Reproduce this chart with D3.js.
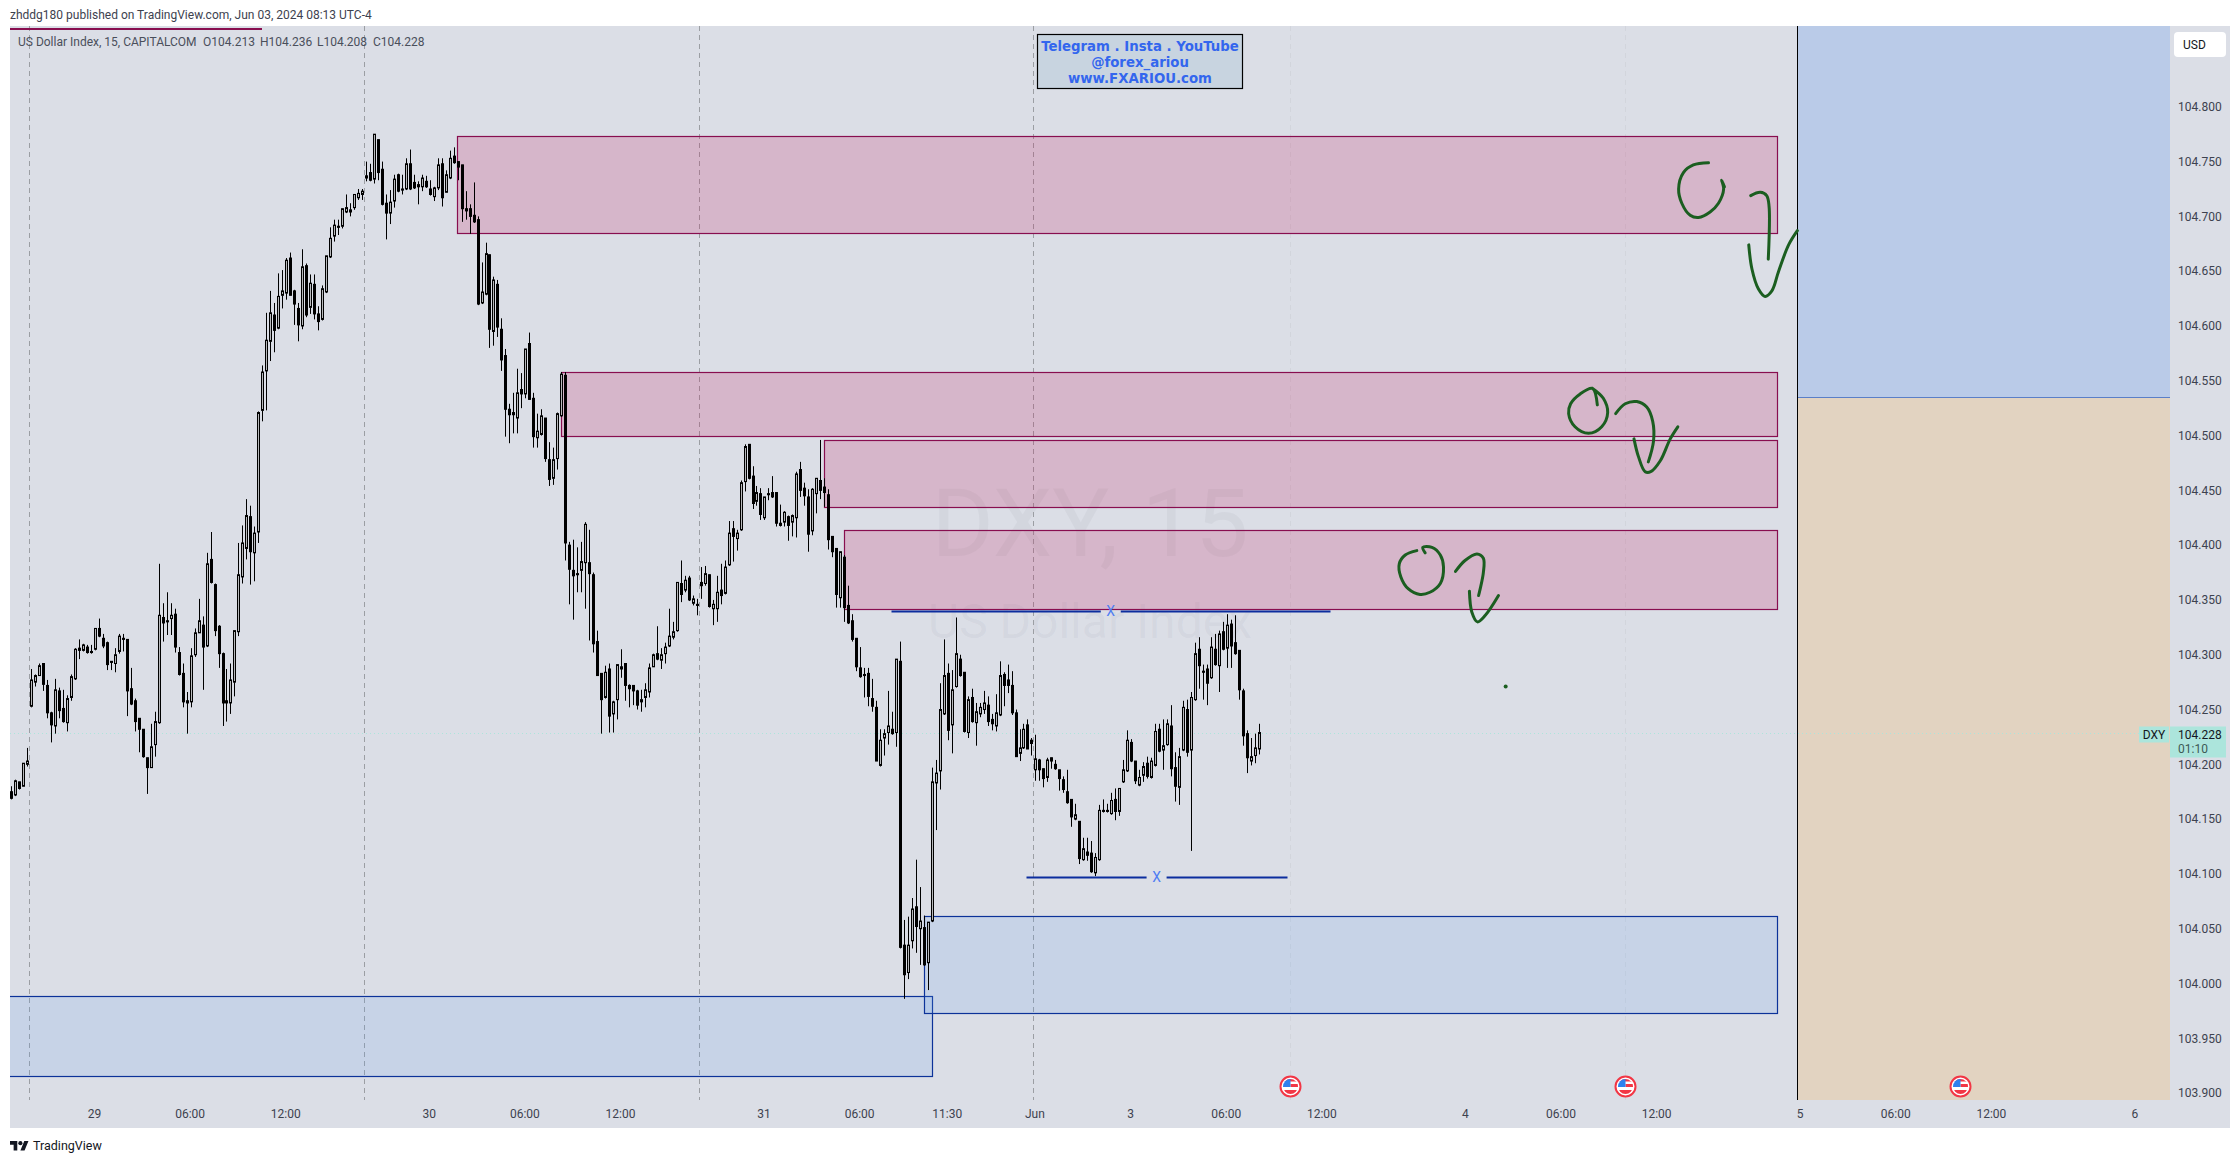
<!DOCTYPE html>
<html>
<head>
<meta charset="utf-8">
<title>DXY 15</title>
<script src="https://cdn.jsdelivr.net/npm/d3@7"></script>
<style>
  html, body { margin: 0; padding: 0; background: #fff; }
  svg { display: block; }
  text { font-family: Roboto, sans-serif; }
</style>
</head>
<body>
<div id="chart"></div>
<script>
// candles, oldest first (15 minute bars)
const opens = [
104.174,104.171,104.183,104.179,104.199,104.252,104.274,104.280,104.291,104.271,
104.246,104.234,104.266,104.250,104.237,104.260,104.277,104.305,104.303,104.306,
104.302,104.304,104.323,104.314,104.310,104.293,104.291,104.302,104.314,104.313,
104.268,104.257,104.241,104.231,104.205,104.196,104.217,104.237,104.333,104.330,
104.332,104.336,104.301,104.282,104.257,104.256,104.299,104.319,104.326,104.307,
104.386,104.363,104.325,104.300,104.257,104.255,104.274,104.320,104.370,104.396,
104.425,104.392,104.411,104.522,104.558,104.585,104.609,104.597,104.627,104.629,
104.661,104.631,104.615,104.599,104.654,104.616,104.637,104.610,104.605,104.630,
104.662,104.681,104.690,104.690,104.703,104.703,104.707,104.716,104.719,104.736,
104.739,104.733,104.769,104.742,104.711,104.702,104.713,104.737,104.724,104.724,
104.747,104.730,104.726,104.726,104.731,104.724,104.717,104.725,104.747,104.721,
104.734,104.754,104.749,104.746,104.706,104.706,104.700,104.696,104.620,104.628,
104.664,104.594,104.637,104.596,104.572,104.523,104.520,104.515,104.541,104.537,
104.583,104.533,104.497,104.500,104.515,104.477,104.460,104.478,104.517,104.554,
104.399,104.376,104.373,104.376,104.383,104.383,104.372,104.311,104.282,104.260,
104.286,104.245,104.258,104.288,104.291,104.271,104.271,104.266,104.256,104.260,
104.265,104.288,104.300,104.294,104.300,104.307,104.315,104.321,104.364,104.358,
104.369,104.346,104.345,104.365,104.364,104.372,104.341,104.341,104.358,104.355,
104.381,104.414,104.405,104.413,104.457,104.491,104.462,104.439,104.446,104.424,
104.446,104.447,104.447,104.419,104.420,104.425,104.420,104.424,104.468,104.451,
104.443,104.412,104.446,104.458,104.452,104.445,104.407,104.396,104.351,104.388,
104.344,104.330,104.314,104.287,104.281,104.282,104.259,104.251,104.198,104.223,
104.228,104.231,104.228,104.293,104.034,104.009,104.038,104.069,104.049,104.050,
104.018,104.056,104.182,104.193,104.245,104.282,104.235,104.270,104.295,104.283,
104.228,104.260,104.237,104.245,104.249,104.253,104.240,104.234,104.244,104.281,
104.276,104.271,104.246,104.209,104.214,104.235,104.221,104.194,104.203,104.195,
104.187,104.205,104.199,104.194,104.185,104.174,104.167,104.149,104.147,104.112,
104.119,104.118,104.100,104.112,104.157,104.157,104.154,104.167,104.156,104.183,
104.193,104.219,104.202,104.180,104.189,104.200,104.187,104.198,104.231,104.212,
104.217,104.234,104.196,104.178,104.212,104.249,104.212,104.258,104.304,104.284,
104.286,104.278,104.304,104.289,104.320,104.305,104.327,104.310,104.303,104.266,
104.227,104.202,104.207,104.213];
const highs = [
104.179,104.185,104.183,104.200,104.214,104.286,104.281,104.291,104.291,104.276,
104.247,104.277,104.269,104.267,104.262,104.281,104.305,104.313,104.309,104.308,
104.308,104.323,104.332,104.318,104.311,104.293,104.305,104.318,104.318,104.313,
104.287,104.259,104.241,104.231,104.205,104.236,104.247,104.382,104.346,104.356,
104.346,104.341,104.306,104.291,104.265,104.305,104.323,104.350,104.334,104.392,
104.411,104.364,104.326,104.301,104.286,104.291,104.321,104.401,104.417,104.441,
104.435,104.416,104.521,104.563,104.611,104.631,104.620,104.647,104.650,104.661,
104.666,104.632,104.620,104.669,104.656,104.646,104.646,104.617,104.636,104.663,
104.689,104.696,104.696,104.706,104.719,104.711,104.719,104.724,104.724,104.749,
104.747,104.774,104.769,104.749,104.719,104.723,104.737,104.738,104.737,104.752,
104.760,104.737,104.731,104.737,104.736,104.732,104.726,104.752,104.752,104.741,
104.759,104.762,104.749,104.746,104.722,104.710,104.730,104.699,104.657,104.675,
104.664,104.644,104.641,104.606,104.578,104.528,104.538,104.560,104.556,104.578,
104.593,104.538,104.519,104.523,104.515,104.493,104.488,104.520,104.557,104.557,
104.402,104.404,104.397,104.402,104.420,104.413,104.374,104.321,104.282,104.289,
104.291,104.257,104.290,104.304,104.291,104.272,104.271,104.267,104.267,104.273,
104.291,104.300,104.325,104.305,104.310,104.341,104.329,104.365,104.385,104.371,
104.371,104.353,104.350,104.379,104.380,104.372,104.349,104.371,104.382,104.385,
104.421,104.421,104.413,104.458,104.491,104.491,104.471,104.453,104.451,104.443,
104.451,104.462,104.447,104.436,104.430,104.426,104.427,104.466,104.475,104.456,
104.450,104.451,104.460,104.495,104.460,104.450,104.407,104.396,104.393,104.390,
104.362,104.336,104.314,104.306,104.287,104.287,104.277,104.257,104.231,104.231,
104.266,104.247,104.295,104.311,104.057,104.060,104.077,104.112,104.087,104.061,
104.055,104.196,104.203,104.273,104.313,104.291,104.285,104.333,104.299,104.283,
104.261,104.268,104.255,104.255,104.266,104.261,104.245,104.263,104.293,104.283,
104.290,104.284,104.249,104.231,104.236,104.240,104.223,104.226,104.204,104.195,
104.205,104.205,104.203,104.194,104.188,104.194,104.167,104.163,104.147,104.132,
104.132,104.129,104.118,104.162,104.167,104.163,104.173,104.177,104.177,104.203,
104.230,104.222,104.202,104.194,104.201,104.206,104.205,104.236,104.236,104.240,
104.240,104.253,104.210,104.214,104.257,104.258,104.265,104.310,104.315,104.290,
104.290,104.315,104.318,104.321,104.329,104.336,104.331,104.335,104.303,104.268,
104.230,104.223,104.227,104.236];
const lows = [
104.167,104.170,104.176,104.179,104.197,104.251,104.270,104.280,104.266,104.241,
104.219,104.227,104.241,104.237,104.229,104.257,104.276,104.295,104.302,104.300,
104.300,104.303,104.315,104.305,104.285,104.285,104.283,104.300,104.302,104.243,
104.253,104.229,104.210,104.205,104.172,104.196,104.206,104.236,104.311,104.317,
104.317,104.301,104.280,104.251,104.227,104.251,104.297,104.319,104.267,104.306,
104.364,104.316,104.287,104.234,104.238,104.245,104.261,104.316,104.364,104.386,
104.363,104.366,104.401,104.512,104.522,104.567,104.575,104.596,104.615,104.623,
104.627,104.600,104.585,104.596,104.607,104.610,104.605,104.595,104.604,104.629,
104.661,104.676,104.682,104.688,104.702,104.699,104.705,104.714,104.714,104.731,
104.731,104.729,104.732,104.709,104.678,104.692,104.707,104.721,104.719,104.723,
104.723,104.724,104.710,104.722,104.725,104.718,104.713,104.723,104.708,104.721,
104.733,104.747,104.732,104.694,104.696,104.683,104.693,104.618,104.619,104.627,
104.579,104.581,104.589,104.558,104.498,104.492,104.501,104.501,104.524,104.533,
104.532,104.488,104.488,104.499,104.475,104.453,104.454,104.468,104.516,104.385,
104.345,104.331,104.356,104.356,104.341,104.312,104.301,104.280,104.227,104.259,
104.228,104.228,104.240,104.278,104.257,104.251,104.253,104.249,104.247,104.251,
104.260,104.288,104.294,104.286,104.291,104.306,104.313,104.320,104.347,104.356,
104.348,104.344,104.335,104.350,104.362,104.342,104.326,104.329,104.345,104.354,
104.380,104.384,104.394,104.412,104.448,104.459,104.432,104.435,104.422,104.422,
104.440,104.442,104.416,104.416,104.416,104.403,104.407,104.406,104.443,104.435,
104.393,104.408,104.428,104.441,104.434,104.395,104.388,104.342,104.342,104.329,
104.327,104.311,104.284,104.278,104.260,104.252,104.247,104.202,104.197,104.207,
104.217,104.226,104.215,104.031,103.985,104.003,104.031,104.027,104.016,104.015,
103.993,104.055,104.139,104.176,104.244,104.221,104.209,104.269,104.279,104.228,
104.223,104.237,104.216,104.242,104.245,104.234,104.230,104.229,104.243,104.252,
104.264,104.244,104.206,104.202,104.213,104.213,104.207,104.184,104.184,104.178,
104.183,104.195,104.194,104.175,104.173,104.163,104.142,104.148,104.108,104.111,
104.111,104.100,104.097,104.111,104.155,104.155,104.153,104.148,104.152,104.182,
104.192,104.201,104.181,104.179,104.183,104.186,104.186,104.197,104.210,104.194,
104.216,104.188,104.165,104.162,104.211,104.206,104.120,104.257,104.268,104.258,
104.253,104.277,104.289,104.265,104.303,104.287,104.287,104.299,104.258,104.216,
104.191,104.198,104.200,104.208];
const closes = [
104.168,104.184,104.177,104.200,104.202,104.276,104.280,104.289,104.272,104.246,
104.235,104.267,104.248,104.238,104.259,104.279,104.304,104.303,104.308,104.301,
104.301,104.323,104.316,104.307,104.290,104.292,104.299,104.316,104.313,104.266,
104.254,104.238,104.231,104.206,104.196,104.215,104.238,104.335,104.328,104.329,
104.335,104.306,104.281,104.256,104.255,104.298,104.319,104.330,104.306,104.382,
104.365,104.321,104.300,104.255,104.255,104.276,104.321,104.372,104.401,104.426,
104.393,104.410,104.520,104.557,104.586,104.611,104.595,104.626,104.631,104.659,
104.627,104.619,104.600,104.653,104.609,104.638,104.610,104.603,104.633,104.663,
104.679,104.691,104.689,104.706,104.707,104.705,104.719,104.720,104.722,104.734,
104.732,104.774,104.739,104.710,104.702,104.712,104.733,104.722,104.723,104.747,
104.724,104.725,104.728,104.734,104.726,104.719,104.725,104.746,104.716,104.737,
104.752,104.748,104.744,104.706,104.704,104.699,104.694,104.619,104.630,104.665,
104.596,104.641,104.598,104.568,104.523,104.518,104.518,104.538,104.537,104.578,
104.532,104.498,104.503,104.517,104.478,104.459,104.477,104.519,104.555,104.401,
104.377,104.371,104.372,104.384,104.418,104.373,104.309,104.280,104.258,104.283,
104.243,104.256,104.290,104.286,104.271,104.268,104.266,104.253,104.258,104.267,
104.287,104.299,104.295,104.299,104.306,104.316,104.320,104.365,104.354,104.367,
104.349,104.350,104.344,104.362,104.373,104.343,104.345,104.356,104.353,104.379,
104.410,104.407,104.410,104.456,104.489,104.460,104.437,104.447,104.427,104.443,
104.445,104.443,104.419,104.417,104.429,104.417,104.426,104.464,104.449,104.444,
104.409,104.450,104.460,104.449,104.447,104.404,104.393,104.354,104.393,104.342,
104.328,104.313,104.288,104.279,104.280,104.261,104.252,104.202,104.221,104.227,
104.234,104.227,104.295,104.032,104.007,104.034,104.067,104.051,104.056,104.016,
104.055,104.183,104.191,104.249,104.280,104.230,104.267,104.300,104.280,104.229,
104.258,104.238,104.247,104.251,104.255,104.238,104.236,104.246,104.280,104.271,
104.271,104.246,104.206,104.214,104.231,104.213,104.218,104.204,104.194,104.186,
104.203,104.202,104.195,104.186,104.176,104.164,104.151,104.153,104.113,104.122,
104.116,104.101,104.114,104.157,104.156,104.156,104.166,104.156,104.177,104.194,
104.221,104.202,104.184,104.187,104.197,104.188,104.202,104.229,104.211,104.216,
104.236,104.195,104.179,104.206,104.251,104.210,104.260,104.300,104.289,104.283,
104.273,104.306,104.290,104.318,104.304,104.326,104.307,104.300,104.267,104.225,
104.205,104.206,104.214,104.228];

// price axis
const priceTicks = [104.8,104.75,104.7,104.65,104.6,104.55,104.5,104.45,104.4,104.35,104.3,104.25,104.2,104.15,104.1,104.05,104.0,103.95,103.9];

// time axis, in bar numbers
const timeTicks = [21,45,69,105,129,153,189,213,235,257,281,305,329,365,389,413,449,473,497,533];
const timeLabels = ['29','06:00','12:00','30','06:00','12:00','31','06:00','11:30','Jun','3','06:00','12:00','4','06:00','12:00','5','06:00','12:00','6'];
const sessionBars = [4.5,88.5,172.5,256.5];
const eventBars = [321,405,489];

// drawings: [first bar, last bar, top price, bottom price]
const pinkZones = [[111.9,443,104.772,104.684],[138,443,104.557,104.4985],[204,443,104.495,104.434],[209,443,104.413,104.341]];
const blueZones = [[-1,231.1,103.988,103.915],[229.1,443,104.061,103.972]];
// [first bar, last bar, price, bar of the x]
const levelLines = [[220.7,330.9,104.339,275.9],[254.6,320.2,104.096,287.4]];
const positionSplit = 104.534;
const positionBars = [448,541.5];

// freehand marks as [bar, price]
const penStrokes = [
  [[425.9,104.748],[422.1,104.746],[419.6,104.739],[418.4,104.724],[419.2,104.711],[421.3,104.700],[423.4,104.698],[426.3,104.703],[428.4,104.711],[429.7,104.724],[429.2,104.732],[429.9,104.726]],
  [[436.5,104.718],[438.9,104.721],[440.5,104.718],[441.1,104.708],[440.9,104.660]],
  [[436.0,104.673],[436.8,104.651],[438.4,104.633],[440.1,104.626],[441.8,104.631],[443.5,104.649],[446.0,104.673],[448.2,104.686]],
  [[398.0,104.527],[396.8,104.542],[393.7,104.537],[391.3,104.528],[390.8,104.519],[392.4,104.507],[395.8,104.501],[399.1,104.507],[400.6,104.520],[399.5,104.533],[396.8,104.542]],
  [[402.6,104.519],[405.0,104.528],[407.9,104.530],[410.4,104.525],[411.9,104.512],[412.1,104.494],[410.8,104.475]],
  [[407.2,104.496],[408.3,104.480],[410.0,104.466],[411.4,104.466],[413.8,104.476],[416.3,104.496],[418.2,104.507]],
  [[354.8,104.392],[354.2,104.397],[356.5,104.397],[358.6,104.390],[359.4,104.379],[358.6,104.364],[356.0,104.356],[353.5,104.354],[350.6,104.359],[348.7,104.370],[348.3,104.382],[349.8,104.390],[352.7,104.394]],
  [[362.4,104.375],[364.8,104.385],[367.8,104.391],[369.4,104.387],[369.4,104.374],[368.2,104.353]],
  [[365.9,104.357],[366.5,104.338],[367.9,104.329],[369.9,104.335],[373.2,104.353]]
];
const penDot = [375.0,104.270];

const infoLines = ['Telegram . Insta . YouTube','@forex_ariou','www.FXARIOU.com'];

const width = 2240, height = 1163;
const pane = { left: 10, right: 2230, top: 26, bottom: 1128 };
const plotBottom = 1100, axisLeft = 2170;

const x = d3.scaleLinear().domain([0, 313]).range([11.3, 1258.6]);
const y = d3.scaleLinear().domain([103.9, 104.8]).range([1092, 105.7]);
const px = v => Math.round(x(v)) + 0.5;
const py = v => Math.round(y(v)) + 0.5;

const svg = d3.select('#chart').append('svg').attr('width', width).attr('height', height);

svg.append('clipPath').attr('id', 'plot').append('rect')
  .attr('x', pane.left).attr('y', pane.top).attr('width', axisLeft - pane.left).attr('height', plotBottom - pane.top);
const plot = () => svg.append('g').attr('clip-path', 'url(#plot)');

// page header
svg.append('text').attr('x', 10).attr('y', 19).attr('font-size', 12).attr('fill', '#3d424f')
  .text('zhddg180 published on TradingView.com, Jun 03, 2024 08:13 UTC-4');

svg.append('rect').attr('x', pane.left).attr('y', pane.top)
  .attr('width', pane.right - pane.left).attr('height', pane.bottom - pane.top)
  .attr('fill', '#dbdee6');

// watermark
svg.append('text').attr('x', 1090).attr('y', 556).attr('text-anchor', 'middle')
  .attr('font-size', 95).attr('fill', 'rgba(120,110,130,0.07)').text('DXY, 15');
svg.append('text').attr('x', 1090).attr('y', 638).attr('text-anchor', 'middle')
  .attr('font-size', 48).attr('fill', 'rgba(120,123,134,0.07)').text('US Dollar Index');

// event dashes sit under the position block
const eventLines = plot();
eventLines.selectAll('line').data(eventBars).enter().append('line')
  .attr('x1', px).attr('x2', px).attr('y1', pane.top).attr('y2', plotBottom)
  .attr('stroke', '#d2d5dc').attr('stroke-dasharray', '5,4');

// long/short position block on the right
const posLayer = plot();
posLayer.append('rect').attr('x', px(positionBars[0])).attr('y', pane.top)
  .attr('width', axisLeft - px(positionBars[0])).attr('height', y(positionSplit) - pane.top)
  .attr('fill', '#b8cae8').attr('fill-opacity', 0.96);
posLayer.append('rect').attr('x', px(positionBars[0])).attr('y', y(positionSplit))
  .attr('width', axisLeft - px(positionBars[0])).attr('height', plotBottom - y(positionSplit))
  .attr('fill', '#e2d2c0').attr('fill-opacity', 0.96);
posLayer.append('line').attr('x1', px(positionBars[0])).attr('x2', axisLeft)
  .attr('y1', py(positionSplit)).attr('y2', py(positionSplit)).attr('stroke', '#5b7fc7');
posLayer.append('line').attr('x1', px(positionBars[0])).attr('x2', px(positionBars[0]))
  .attr('y1', pane.top).attr('y2', plotBottom).attr('stroke', '#000');

// session dashes
const grid = plot();
grid.selectAll('.session').data(sessionBars).enter().append('line')
  .attr('x1', px).attr('x2', px).attr('y1', pane.top).attr('y2', plotBottom)
  .attr('stroke', '#9b9ea3').attr('stroke-dasharray', '5,4');

// last price dotted line
grid.append('line').attr('x1', pane.left).attr('x2', axisLeft)
  .attr('y1', py(closes[closes.length - 1])).attr('y2', py(closes[closes.length - 1]))
  .attr('stroke', '#ace5dc').attr('stroke-dasharray', '1,3');

// cut-off zone above the pane
grid.append('line').attr('x1', pane.left).attr('x2', 262).attr('y1', 29).attr('y2', 29)
  .attr('stroke', '#880e4f').attr('stroke-width', 2);

// zones
const zones = plot();
function drawZones(list, fill, stroke) {
  zones.selectAll(null).data(list).enter().append('rect')
    .attr('x', d => px(d[0]))
    .attr('y', d => py(d[2]))
    .attr('width', d => px(d[1]) - px(d[0]))
    .attr('height', d => py(d[3]) - py(d[2]))
    .attr('fill', fill).attr('stroke', stroke).attr('stroke-width', 1.2);
}
drawZones(blueZones, 'rgba(99,162,240,0.17)', '#0c3299');
drawZones(pinkZones, 'rgba(194,24,91,0.2)', '#880e4f');

// candles
const bars = d3.range(opens.length);
const candles = plot();
candles.selectAll('.wick').data(bars).enter().append('line')
  .attr('x1', px).attr('x2', px)
  .attr('y1', i => y(highs[i])).attr('y2', i => y(lows[i]))
  .attr('stroke', '#000');
candles.selectAll('.body').data(bars).enter().append('rect')
  .attr('x', i => px(i) - 1)
  .attr('width', 2)
  .attr('y', i => y(Math.max(opens[i], closes[i])))
  .attr('height', i => Math.max(1, Math.abs(y(opens[i]) - y(closes[i]))))
  .attr('fill', i => closes[i] >= opens[i] ? '#b8b9bc' : '#000')
  .attr('stroke', '#000');

// horizontal levels with an x in the middle
const levels = plot();
levelLines.forEach(d => {
  levels.append('line').attr('x1', px(d[0])).attr('x2', x(d[3]) - 10).attr('y1', py(d[2])).attr('y2', py(d[2]))
    .attr('stroke', '#0c2d9e').attr('stroke-width', 2);
  levels.append('line').attr('x1', x(d[3]) + 10).attr('x2', px(d[1])).attr('y1', py(d[2])).attr('y2', py(d[2]))
    .attr('stroke', '#0c2d9e').attr('stroke-width', 2);
  levels.append('text').attr('x', x(d[3])).attr('y', y(d[2]) + 5).attr('text-anchor', 'middle')
    .attr('font-size', 14).attr('fill', '#4f7df3').text('X');
});

// pen strokes
const pen = d3.line().x(d => x(d[0])).y(d => y(d[1])).curve(d3.curveCatmullRom);
svg.append('g').selectAll('path').data(penStrokes).enter().append('path')
  .attr('d', pen).attr('fill', 'none').attr('stroke', '#1b5e20')
  .attr('stroke-width', 3).attr('stroke-linecap', 'round').attr('stroke-linejoin', 'round');
svg.append('circle').attr('cx', x(penDot[0])).attr('cy', y(penDot[1])).attr('r', 2).attr('fill', '#1b5e20');

// legend
const last = opens.length - 1;
const legend = [
  [18, 'US Dollar Index, 15, CAPITALCOM'],
  [203, 'O' + opens[last].toFixed(3)],
  [260, 'H' + highs[last].toFixed(3)],
  [317, 'L' + lows[last].toFixed(3)],
  [373, 'C' + closes[last].toFixed(3)]
];
svg.append('g').selectAll('text').data(legend).enter().append('text')
  .attr('x', d => d[0]).attr('y', 46).attr('font-size', 12).attr('fill', '#4a4f5b').text(d => d[1]);

// info box
svg.append('rect').attr('x', 1037.5).attr('y', 34.5).attr('width', 205).attr('height', 54)
  .attr('fill', '#c8d4e0').attr('stroke', '#000').attr('stroke-width', 1.2);
svg.append('g').selectAll('text').data(infoLines).enter().append('text')
  .attr('x', 1140).attr('y', (d, i) => 51 + i * 16).attr('text-anchor', 'middle')
  .style('font-family', '"DejaVu Sans", sans-serif').attr('font-size', 13.3).attr('font-weight', 700)
  .attr('fill', '#3366ee').text(d => d);

// axes
const yAxis = svg.append('g').attr('transform', `translate(${axisLeft},1)`)
  .call(d3.axisRight(y).tickValues(priceTicks).tickSize(0).tickPadding(8).tickFormat(d3.format('.3f')));
yAxis.select('.domain').remove();
yAxis.selectAll('text').attr('font-size', 12).attr('fill', '#3d424f');

const xAxis = svg.append('g').attr('transform', `translate(-1,${plotBottom + 1})`)
  .call(d3.axisBottom(x).tickValues(timeTicks).tickSize(0).tickPadding(8).tickFormat((d, i) => timeLabels[i]));
xAxis.select('.domain').remove();
xAxis.selectAll('text').attr('font-size', 12).attr('fill', '#3d424f');

// last price tags
const tagY = py(closes[last]);
svg.append('rect').attr('x', 2139).attr('y', tagY - 7).attr('width', 30).attr('height', 16).attr('fill', '#ace5dc');
svg.append('text').attr('x', 2154).attr('y', tagY + 5).attr('text-anchor', 'middle').attr('font-size', 12).attr('fill', '#131722').text('DXY');
svg.append('rect').attr('x', axisLeft).attr('y', tagY - 7).attr('width', 56).attr('height', 31).attr('fill', '#ace5dc');
svg.append('text').attr('x', axisLeft + 8).attr('y', tagY + 5).attr('font-size', 12).attr('fill', '#131722').text(closes[last].toFixed(3));
svg.append('text').attr('x', axisLeft + 8).attr('y', tagY + 19).attr('font-size', 12).attr('fill', '#3d5a55').text('01:10');

// USD button
svg.append('rect').attr('x', 2174).attr('y', 32).attr('width', 52).attr('height', 25).attr('rx', 4).attr('fill', '#fff');
svg.append('text').attr('x', 2183).attr('y', 49).attr('font-size', 12).attr('fill', '#131722').text('USD');

// event flags
svg.append('clipPath').attr('id', 'flagClip').append('circle').attr('r', 7.5);
const flags = svg.append('g').selectAll('g').data(eventBars).enter().append('g')
  .attr('transform', d => `translate(${px(d)},1086.5)`);
flags.append('circle').attr('r', 10).attr('fill', '#fff').attr('stroke', '#f23645').attr('stroke-width', 2);
const flagFace = flags.append('g').attr('clip-path', 'url(#flagClip)');
flagFace.append('rect').attr('x', -8).attr('y', -8).attr('width', 16).attr('height', 16).attr('fill', '#fff');
flagFace.append('rect').attr('x', -8).attr('y', -8).attr('width', 16).attr('height', 3).attr('fill', '#f23645');
flagFace.append('rect').attr('x', 0).attr('y', -2.5).attr('width', 8).attr('height', 3).attr('fill', '#f23645');
flagFace.append('rect').attr('x', -8).attr('y', 3.5).attr('width', 16).attr('height', 5).attr('fill', '#f23645');
flagFace.append('rect').attr('x', -8).attr('y', -8).attr('width', 8).attr('height', 8.5).attr('fill', '#2f80ed');

// TradingView mark
const logo = svg.append('g').attr('transform', 'translate(10,1139) scale(0.52)').attr('fill', '#131722');
logo.append('path').attr('d', 'M14 22H7V11H0V4h14v18zM28 22h-8l7.5-18h8L28 22z');
logo.append('circle').attr('cx', 20).attr('cy', 8).attr('r', 4);
svg.append('text').attr('x', 33).attr('y', 1150).attr('font-size', 12.5).attr('fill', '#131722').text('TradingView');
</script>
</body>
</html>
